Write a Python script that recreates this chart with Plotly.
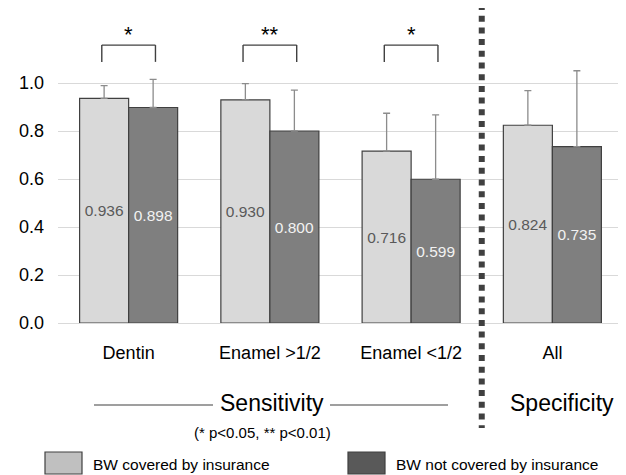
import plotly.graph_objects as go

# ---- data ----
categories = ["Dentin", "Enamel >1/2", "Enamel <1/2", "All"]
covered = [0.936, 0.930, 0.716, 0.824]
not_covered = [0.898, 0.800, 0.599, 0.735]
covered_err = [0.053, 0.067, 0.158, 0.144]
not_covered_err = [0.117, 0.170, 0.268, 0.316]
significance = ["*", "**", "*", ""]
y_ticks = [0.0, 0.2, 0.4, 0.6, 0.8, 1.0]
y_tick_labels = ["0.0", "0.2", "0.4", "0.6", "0.8", "1.0"]
legend_names = ["BW covered by insurance", "BW not covered by insurance"]
note_text = "(* p<0.05, ** p<0.01)"

# ---- layout geometry (pixels) ----
OFF = 8                       # default page margin of the html body
W, Hh = 626 - OFF, 475 - OFF
L, R, T, B = 58 - OFF, 3, 5, 152
PW, PH = W - L - R, Hh - T - B
FONT = "Liberation Sans, Arial, sans-serif"
DARK = "#404040"


def px_x(px):
    """window pixel x -> paper coordinate"""
    return (px - OFF - L) / PW


def px_y(py):
    """window pixel y -> paper coordinate"""
    return (Hh - B - (py - OFF)) / PH


fig = go.Figure()
fig.add_trace(go.Bar(
    x=categories, y=covered, name=legend_names[0], showlegend=False,
    marker=dict(color="#d9d9d9", line=dict(color=DARK, width=1.2)),
    error_y=dict(type="data", symmetric=False, array=covered_err,
                 arrayminus=[0] * len(covered), color="#8c8c8c",
                 thickness=1.3, width=3.5),
    texttemplate="%{y:.3f}", textposition="inside", insidetextanchor="middle",
    textangle=0, textfont=dict(family=FONT, size=15.5, color="#595959"),
    constraintext="none",
))
fig.add_trace(go.Bar(
    x=categories, y=not_covered, name=legend_names[1], showlegend=False,
    marker=dict(color="#7f7f7f", line=dict(color=DARK, width=1.2)),
    error_y=dict(type="data", symmetric=False, array=not_covered_err,
                 arrayminus=[0] * len(not_covered), color="#8c8c8c",
                 thickness=1.3, width=3.5),
    texttemplate="%{y:.3f}", textposition="inside", insidetextanchor="middle",
    textangle=0, textfont=dict(family=FONT, size=15.5, color="#f2f2f2"),
    constraintext="none",
))

shapes = []
annotations = []

# significance brackets
br_top, br_bot, half = 1.158, 1.088, 0.19
for i, s in enumerate(significance):
    if not s:
        continue
    ln = dict(color=DARK, width=1.4)
    shapes.append(dict(type="line", xref="x", yref="y", x0=i - half, x1=i + half,
                       y0=br_top, y1=br_top, line=ln))
    shapes.append(dict(type="line", xref="x", yref="y", x0=i - half, x1=i - half,
                       y0=br_top, y1=br_bot, line=ln))
    shapes.append(dict(type="line", xref="x", yref="y", x0=i + half, x1=i + half,
                       y0=br_top, y1=br_bot, line=ln))
    annotations.append(dict(xref="x", yref="y", x=i, y=br_top, text=s,
                            showarrow=False, yanchor="bottom", yshift=-4,
                            font=dict(family=FONT, size=22, color="#000000")))

# dotted divider between Sensitivity and Specificity
div_x = (2.5 + 0.5) / len(categories)
shapes.append(dict(type="line", xref="paper", yref="paper", x0=div_x, x1=div_x,
                   y0=px_y(4), y1=px_y(428),
                   line=dict(color=DARK, width=6, dash="6px,5.7px")))

# Sensitivity label with lines
shapes.append(dict(type="line", xref="paper", yref="paper", x0=px_x(94), x1=px_x(213),
                   y0=px_y(405), y1=px_y(405), line=dict(color=DARK, width=1.2)))
shapes.append(dict(type="line", xref="paper", yref="paper", x0=px_x(330), x1=px_x(448),
                   y0=px_y(405), y1=px_y(405), line=dict(color=DARK, width=1.2)))
annotations.append(dict(xref="paper", yref="paper", x=px_x(272), y=px_y(403),
                        text="Sensitivity", showarrow=False, xanchor="center", yanchor="middle",
                        font=dict(family=FONT, size=23, color="#000000")))
annotations.append(dict(xref="paper", yref="paper", x=px_x(562), y=px_y(403),
                        text="Specificity", showarrow=False, xanchor="center", yanchor="middle",
                        font=dict(family=FONT, size=23, color="#000000")))
annotations.append(dict(xref="paper", yref="paper", x=px_x(262), y=px_y(432),
                        text=note_text, showarrow=False, xanchor="center", yanchor="middle",
                        font=dict(family=FONT, size=15, color="#000000")))

# legend (drawn manually)
leg_boxes = [(45, 82, "#c0c0c0"), (348, 385, "#595959")]
for (x0, x1, col), name in zip(leg_boxes, legend_names):
    shapes.append(dict(type="rect", xref="paper", yref="paper", x0=px_x(x0), x1=px_x(x1),
                       y0=px_y(452), y1=px_y(474), fillcolor=col,
                       line=dict(color=DARK, width=1.2)))
    annotations.append(dict(xref="paper", yref="paper", x=px_x(x1 + 9), y=px_y(464),
                            text=name, showarrow=False, xanchor="left", yanchor="middle",
                            font=dict(family=FONT, size=15.5, color="#000000")))

fig.update_layout(
    width=W, height=Hh,
    margin=dict(l=L, r=R, t=T, b=B, pad=0),
    paper_bgcolor="white", plot_bgcolor="white",
    barmode="group", bargap=0.306, bargroupgap=0,
    font=dict(family=FONT, color="#000000"),
    shapes=shapes, annotations=annotations,
    xaxis=dict(type="category", range=[-0.5, len(categories) - 0.5],
               showgrid=False, showline=False, zeroline=False, ticks="",
               ticklabelstandoff=17, tickfont=dict(family=FONT, size=18, color="#000000"),
               fixedrange=True),
    yaxis=dict(range=[0, PH / 240], tickvals=y_ticks, ticktext=y_tick_labels,
               showgrid=True, gridcolor="#d9d9d9", gridwidth=1,
               zeroline=True, zerolinecolor="#d9d9d9", zerolinewidth=1,
               showline=False, ticks="", ticklabelstandoff=13,
               tickfont=dict(family=FONT, size=18, color="#000000"), fixedrange=True),
)

fig.write_html("out.html")
